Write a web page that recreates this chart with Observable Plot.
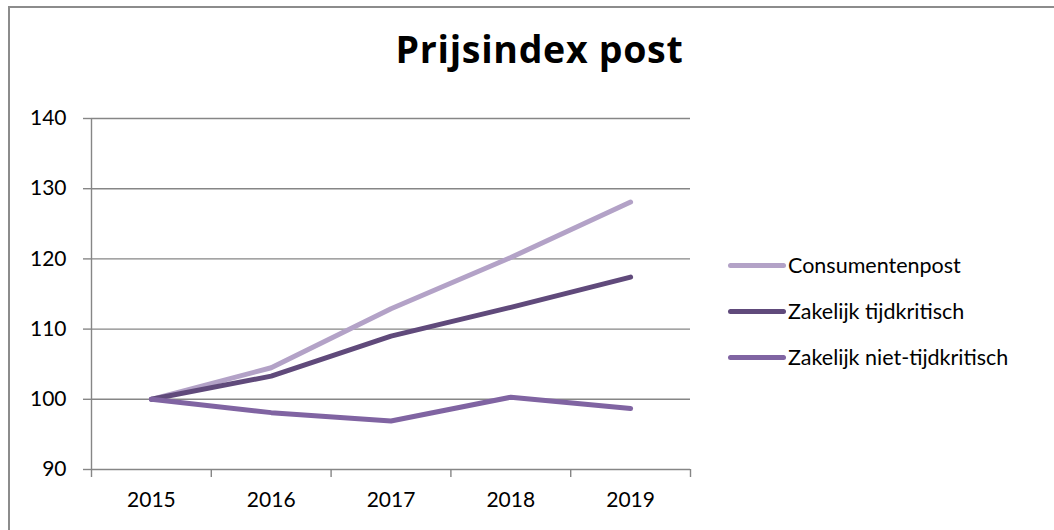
<!DOCTYPE html>
<html>
<head>
<meta charset="utf-8">
<script src="https://cdn.jsdelivr.net/npm/d3@7"></script>
<script src="https://cdn.jsdelivr.net/npm/@observablehq/plot@0.6"></script>
<style>
  html, body { margin: 0; padding: 0; background: #fff; }
  #wrap { position: relative; width: 1054px; height: 530px; overflow: hidden; font-family: Lato, sans-serif; }
  #frame { position: absolute; left: 8px; top: 6px; width: 1200px; height: 700px; border-left: 2px solid #8c8c8c; border-top: 2px solid #8c8c8c; box-sizing: border-box; }
  #title { position: absolute; left: 1px; width: 1077px; top: 29px; text-align: center; font-family: "Open Sans", sans-serif; font-weight: 700; font-size: 37.5px; letter-spacing: 0.7px; line-height: 40px; color: #000; }
  #chart { position: absolute; left: 0; top: 100px; }
  #legend { position: absolute; left: 728px; top: 250px; }
  .row { position: absolute; left: 0; height: 30px; display: flex; align-items: center; white-space: nowrap; font-size: 21.5px; color: #000; }
  .sw { width: 58px; height: 5px; border-radius: 3px; margin-right: 2px; }
</style>
</head>
<body>
<div id="wrap">
  <div id="frame"></div>
  <div id="title">Prijsindex post</div>
  <div id="chart"></div>
  <div id="legend"></div>
</div>
<script>
const years = [2015, 2016, 2017, 2018, 2019];
const consumentenpost = [100, 104.5, 112.9, 120.2, 128.1];
const zakelijkTijdkritisch = [100, 103.3, 109.0, 113.1, 117.4];
const zakelijkNietTijdkritisch = [100, 98.1, 96.9, 100.3, 98.7];
const seriesNames = ["Consumentenpost", "Zakelijk tijdkritisch", "Zakelijk niet-tijdkritisch"];
const seriesColors = ["#b3a2c7", "#604a7b", "#8064a2"];
const yTicks = [90, 100, 110, 120, 130, 140];

const seriesValues = [consumentenpost, zakelijkTijdkritisch, zakelijkNietTijdkritisch];
const data = [];
seriesNames.forEach((name, i) => {
  years.forEach((yr, j) => data.push({series: name, year: yr, value: seriesValues[i][j]}));
});
const boundaries = [years[0] - 0.5, ...years.map(y => y + 0.5)];
const gray = "#868686";

const chart = Plot.plot({
  width: 1054,
  height: 420,
  marginLeft: 91,
  marginRight: 364,
  marginTop: 18,
  marginBottom: 51,
  style: {fontFamily: "Lato, sans-serif", fontSize: "21px", color: "#000", background: "transparent", overflow: "visible"},
  x: {type: "linear", domain: [years[0] - 0.5, years[years.length - 1] + 0.5]},
  y: {domain: [90, 140]},
  color: {domain: seriesNames, range: seriesColors},
  marks: [
    Plot.gridY(yTicks, {stroke: gray, strokeOpacity: 1, strokeWidth: 1.4}),
    Plot.ruleX([years[0] - 0.5], {stroke: gray, strokeWidth: 1.4}),
    Plot.axisY(yTicks, {tickSize: 8, tickPadding: 17, stroke: gray, strokeWidth: 1.4, label: null, tickFormat: d => String(d)}),
    Plot.axisX(boundaries, {tickSize: 8, stroke: gray, strokeWidth: 1.4, tickFormat: () => "", label: null}),
    Plot.axisX(years, {tickSize: 0, tickPadding: 23, label: null, tickFormat: d => String(d)}),
    Plot.lineY(data, {x: "year", y: "value", z: "series", stroke: "series", strokeWidth: 5, strokeLinecap: "round", strokeLinejoin: "round"})
  ]
});
document.getElementById("chart").appendChild(chart);

const legend = d3.select("#legend");
seriesNames.forEach((name, i) => {
  const row = legend.append("div").attr("class", "row").style("top", (i * 46) + "px");
  row.append("div").attr("class", "sw").style("background", seriesColors[i]);
  row.append("span").text(name);
});
</script>
</body>
</html>
